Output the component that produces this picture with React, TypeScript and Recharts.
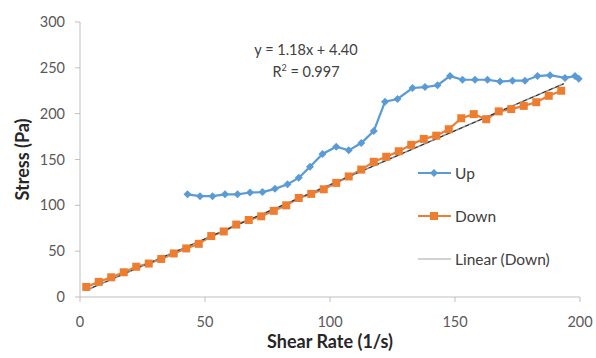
import { LineChart, Line, XAxis, YAxis, Label } from "recharts";

const upShear = [43, 48, 53, 58, 63, 68, 73, 78, 83, 87.5, 92, 97, 102.5, 107.5, 112.5, 117.5, 122, 127, 133, 138, 143, 148, 153, 158, 163, 168, 173, 178, 183, 188, 194, 198, 199.5];
const upStress = [112, 110, 110, 112, 112, 114, 114.5, 118, 123, 130, 142, 156, 164, 160, 168, 181, 213, 216, 228, 229, 231, 241, 237, 237, 237, 235, 236, 236, 241, 242, 239, 241, 238];

const downShear = [2.5, 7.5, 12.5, 17.5, 22.5, 27.5, 32.5, 37.5, 42.5, 47.5, 52.5, 57.5, 62.5, 67.5, 72.5, 77.5, 82.5, 87.5, 92.5, 97.5, 102.5, 107.5, 112.5, 117.5, 122.5, 127.5, 132.5, 137.5, 142.5, 147.5, 152.5, 157.5, 162.5, 167.5, 172.5, 177.5, 182.5, 187.5, 192.5];
const downStress = [11, 16.5, 21.5, 27, 33, 36.5, 41.5, 47.5, 53, 58, 66.5, 71.5, 79, 84, 88, 94, 100, 108, 112.5, 117.5, 124.5, 131.5, 139, 147.5, 153, 159, 166, 172.5, 176, 183, 195, 199.5, 194, 202.5, 205, 208.5, 212.5, 219.5, 225];

// trendline end points
const trendShear = [2.5, 193.5];
const trendStress = [7.4, 232.7];

const xTicks = [0, 50, 100, 150, 200];
const yTicks = [0, 50, 100, 150, 200, 250, 300];

const legendItems = ["Up", "Down", "Linear (Down)"];

const BLUE = "#5B9BD5";
const ORANGE = "#ED7D31";
const FONT = "Lato, 'Open Sans', sans-serif";

const upData = upShear.map((x, i) => ({ x, y: upStress[i] }));
const downData = downShear.map((x, i) => ({ x, y: downStress[i] }));
const trendData = trendShear.map((x, i) => ({ x, y: trendStress[i] }));

const Diamond = (props: any) => {
  const { cx, cy, key } = props;
  const r = 4;
  return (
    <path
      key={key}
      d={`M${cx},${cy - r} L${cx + r},${cy} L${cx},${cy + r} L${cx - r},${cy} Z`}
      fill={BLUE}
    />
  );
};

const Square = (props: any) => {
  const { cx, cy, key } = props;
  const s = 8;
  return <rect key={key} x={cx - s / 2} y={cy - s / 2} width={s} height={s} fill={ORANGE} />;
};

function ChartLegend() {
  return (
    <div
      style={{
        position: "absolute",
        left: 418,
        top: 151,
        fontFamily: FONT,
        fontSize: 15.5,
        color: "#404040",
      }}
    >
      {legendItems.map((name, i) => (
        <div key={name} style={{ display: "flex", alignItems: "center", height: 43 }}>
          <svg width={37} height={12}>
            <line
              x1={0}
              x2={33}
              y1={6}
              y2={6}
              stroke={i === 0 ? BLUE : i === 1 ? ORANGE : "#A6A6A6"}
              strokeWidth={i === 2 ? 1.2 : 2.2}
            />
            {i === 0 && <path d="M16,2 L20,6 L16,10 L12,6 Z" fill={BLUE} />}
            {i === 1 && <rect x={12} y={2} width={8} height={8} fill={ORANGE} />}
          </svg>
          <span>{name}</span>
        </div>
      ))}
    </div>
  );
}

export default function App() {
  return (
    <div style={{ position: "absolute", left: 0, top: 0, width: 596, height: 358, background: "#fff" }}>
      <LineChart
        width={596}
        height={358}
        margin={{ top: 22, right: 16, bottom: 31, left: 0 }}
      >
        <XAxis
          dataKey="x"
          type="number"
          domain={[0, 200]}
          ticks={xTicks}
          stroke="#BFBFBF"
          tickSize={5}
          tickMargin={15}
          tick={{ fill: "#595959", fontSize: 14.5, fontFamily: FONT }}
          height={30}
        >
          <Label
            value="Shear Rate (1/s)"
            position="bottom"
            offset={8}
            style={{ fill: "#262626", fontSize: 18, fontWeight: 700, fontFamily: FONT }}
          />
        </XAxis>
        <YAxis
          type="number"
          domain={[0, 300]}
          ticks={yTicks}
          stroke="#BFBFBF"
          tickSize={5}
          tickMargin={10}
          width={80}
          tick={{ fill: "#595959", fontSize: 14.5, fontFamily: FONT }}
        >
          <Label
            value="Stress (Pa)"
            angle={-90}
            position="center"
            dx={-17}
            style={{ fill: "#262626", fontSize: 18, fontWeight: 700, fontFamily: FONT, textAnchor: "middle" }}
          />
        </YAxis>
        <Line
          data={upData}
          dataKey="y"
          name="Up"
          stroke={BLUE}
          strokeWidth={2.2}
          dot={Diamond}
          activeDot={false}
          isAnimationActive={false}
        />
        <Line
          data={downData}
          dataKey="y"
          name="Down"
          stroke={ORANGE}
          strokeWidth={2.2}
          dot={Square}
          activeDot={false}
          isAnimationActive={false}
        />
        <Line
          data={trendData}
          dataKey="y"
          name="Linear (Down)"
          stroke="#8C8C8C"
          strokeWidth={1.5}
          dot={false}
          activeDot={false}
          isAnimationActive={false}
        />
        <Line
          data={trendData}
          dataKey="y"
          name="trend dash"
          stroke="#262626"
          strokeWidth={1}
          strokeDasharray="4 3"
          dot={false}
          activeDot={false}
          isAnimationActive={false}
        />
      </LineChart>
      <ChartLegend />
      <div
        style={{
          position: "absolute",
          left: 200,
          top: 39,
          width: 212,
          textAlign: "center",
          fontFamily: FONT,
          fontSize: 14.5,
          color: "#404040",
          lineHeight: "22px",
        }}
      >
        <div>y = 1.18x + 4.40</div>
        <div>
          R<sup style={{ fontSize: 9, lineHeight: 0 }}>2</sup> = 0.997
        </div>
      </div>
    </div>
  );
}
